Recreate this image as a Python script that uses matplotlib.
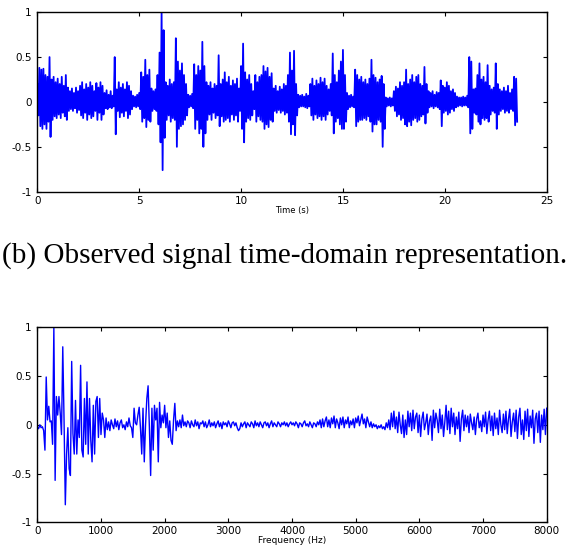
import numpy as np
import matplotlib
matplotlib.use("Agg")
import matplotlib.pyplot as plt

# ---------------- data ----------------
# Time-domain signal: upper / lower excursion every 0.1 s, t = 0.0 .. 23.5 s
time_upper = [
    0.20, 0.38, 0.36, 0.37, 0.30, 0.28, 0.50, 0.25, 0.28, 0.22,
    0.26, 0.20, 0.28, 0.18, 0.30, 0.16, 0.12, 0.15, 0.10, 0.16,
    0.12, 0.18, 0.22, 0.14, 0.20, 0.16, 0.22, 0.18, 0.12, 0.21,
    0.16, 0.22, 0.18, 0.10, 0.13, 0.08, 0.12, 0.07, 0.50, 0.14,
    0.22, 0.16, 0.20, 0.14, 0.22, 0.18, 0.12, 0.07, 0.06, 0.08,
    0.10, 0.33, 0.28, 0.47, 0.30, 0.36, 0.15, 0.12, 0.14, 0.30,
    0.55, 1.00, 0.80, 0.22, 0.18, 0.25, 0.20, 0.22, 0.71, 0.45,
    0.35, 0.43, 0.30, 0.20, 0.08, 0.07, 0.09, 0.42, 0.30, 0.40,
    0.35, 0.67, 0.40, 0.22, 0.18, 0.22, 0.15, 0.20, 0.18, 0.52,
    0.20, 0.25, 0.33, 0.22, 0.28, 0.18, 0.24, 0.20, 0.26, 0.15,
    0.40, 0.65, 0.33, 0.25, 0.30, 0.20, 0.12, 0.30, 0.22, 0.28,
    0.30, 0.40, 0.34, 0.38, 0.28, 0.32, 0.15, 0.18, 0.12, 0.17,
    0.14, 0.20, 0.18, 0.30, 0.55, 0.35, 0.57, 0.20, 0.08, 0.07,
    0.08, 0.06, 0.09, 0.07, 0.20, 0.26, 0.18, 0.24, 0.20, 0.27,
    0.22, 0.26, 0.18, 0.14, 0.20, 0.54, 0.30, 0.22, 0.35, 0.45,
    0.58, 0.30, 0.10, 0.07, 0.08, 0.06, 0.36, 0.30, 0.25, 0.28,
    0.22, 0.25, 0.20, 0.26, 0.47, 0.30, 0.27, 0.22, 0.25, 0.29,
    0.20, 0.05, 0.04, 0.05, 0.04, 0.12, 0.17, 0.15, 0.22, 0.18,
    0.22, 0.36, 0.20, 0.25, 0.30, 0.22, 0.28, 0.30, 0.20, 0.18,
    0.39, 0.20, 0.12, 0.10, 0.12, 0.08, 0.11, 0.10, 0.24, 0.18,
    0.16, 0.22, 0.18, 0.12, 0.14, 0.10, 0.06, 0.05, 0.05, 0.06,
    0.05, 0.07, 0.50, 0.45, 0.14, 0.15, 0.30, 0.43, 0.25, 0.28,
    0.22, 0.41, 0.18, 0.14, 0.16, 0.43, 0.20, 0.14, 0.12, 0.16,
    0.12, 0.18, 0.10, 0.14, 0.28, 0.26,
]
time_lower = [
    -0.15, -0.27, -0.30, -0.25, -0.30, -0.22, -0.39, -0.20, -0.16, -0.18,
    -0.14, -0.18, -0.12, -0.16, -0.20, -0.10, -0.08, -0.10, -0.07, -0.12,
    -0.09, -0.15, -0.18, -0.12, -0.20, -0.14, -0.18, -0.16, -0.10, -0.20,
    -0.12, -0.20, -0.14, -0.07, -0.08, -0.06, -0.07, -0.05, -0.36, -0.10,
    -0.17, -0.12, -0.16, -0.10, -0.18, -0.14, -0.08, -0.05, -0.06, -0.05,
    -0.08, -0.22, -0.18, -0.28, -0.20, -0.22, -0.10, -0.08, -0.10, -0.25,
    -0.45, -0.76, -0.40, -0.20, -0.15, -0.22, -0.18, -0.20, -0.50, -0.30,
    -0.27, -0.25, -0.20, -0.15, -0.06, -0.05, -0.07, -0.30, -0.20, -0.35,
    -0.30, -0.50, -0.35, -0.20, -0.14, -0.20, -0.12, -0.18, -0.15, -0.27,
    -0.16, -0.22, -0.20, -0.18, -0.22, -0.14, -0.20, -0.15, -0.22, -0.10,
    -0.30, -0.45, -0.22, -0.18, -0.20, -0.15, -0.08, -0.22, -0.16, -0.20,
    -0.22, -0.30, -0.25, -0.28, -0.20, -0.22, -0.10, -0.12, -0.09, -0.12,
    -0.10, -0.14, -0.12, -0.22, -0.36, -0.25, -0.37, -0.15, -0.06, -0.05,
    -0.05, -0.06, -0.07, -0.05, -0.15, -0.20, -0.14, -0.18, -0.16, -0.20,
    -0.16, -0.20, -0.14, -0.10, -0.15, -0.35, -0.22, -0.18, -0.25, -0.30,
    -0.30, -0.22, -0.08, -0.06, -0.05, -0.06, -0.27, -0.22, -0.20, -0.20,
    -0.18, -0.20, -0.16, -0.22, -0.33, -0.25, -0.25, -0.20, -0.22, -0.50,
    -0.30, -0.05, -0.04, -0.05, -0.04, -0.10, -0.16, -0.14, -0.20, -0.18,
    -0.25, -0.27, -0.22, -0.26, -0.20, -0.18, -0.22, -0.20, -0.16, -0.14,
    -0.24, -0.12, -0.06, -0.05, -0.07, -0.05, -0.06, -0.08, -0.27, -0.12,
    -0.10, -0.14, -0.12, -0.08, -0.10, -0.06, -0.05, -0.04, -0.05, -0.04,
    -0.04, -0.06, -0.35, -0.30, -0.12, -0.14, -0.22, -0.25, -0.18, -0.20,
    -0.18, -0.22, -0.14, -0.10, -0.12, -0.30, -0.14, -0.10, -0.08, -0.12,
    -0.10, -0.12, -0.08, -0.10, -0.26, -0.22,
]
time_step = 0.1

# Spectrum values every 20 Hz, 0 .. 8000 Hz
spectrum = [
    -0.02, -0.04, 0.00, -0.03, -0.02, -0.06, -0.26, 0.49, 0.05, 0.19,
    0.03, 0.04, -0.20, 1.00, -0.57, 0.29, 0.10, 0.29, 0.12, -0.10,
    0.80, 0.05, -0.82, -0.30, -0.03, -0.45, -0.52, 0.65, -0.09, -0.30,
    0.25, -0.30, 0.05, -0.13, 0.61, -0.26, -0.33, 0.27, -0.20, 0.44,
    -0.30, 0.27, -0.16, -0.38, 0.20, -0.30, 0.24, 0.29, -0.13, 0.27,
    -0.10, 0.12, 0.05, -0.13, 0.07, -0.05, 0.03, -0.06, 0.05, 0.00,
    -0.04, 0.06, -0.02, 0.04, -0.05, 0.02, 0.05, -0.03, 0.00, -0.05,
    0.03, -0.02, 0.07, -0.01, -0.03, -0.13, 0.17, 0.02, 0.00, 0.10,
    0.18, -0.03, -0.30, 0.17, -0.38, 0.00, 0.27, 0.40, -0.02, -0.52,
    0.17, -0.26, 0.20, 0.05, 0.17, -0.38, 0.23, -0.03, 0.10, 0.02,
    0.20, -0.03, 0.12, -0.13, 0.04, -0.16, -0.20, 0.05, 0.22, -0.06,
    0.04, -0.02, 0.05, -0.03, 0.10, -0.01, 0.03, -0.02, 0.04,
    0.02, -0.03, 0.04, 0.00, -0.02, 0.05, -0.01, 0.03, -0.04, 0.02,
    0.01, 0.04, -0.02, 0.03, -0.03, 0.00, 0.05, -0.02, 0.02, -0.01,
    0.03, -0.03, 0.01, 0.04, -0.02, 0.02, -0.04, 0.03, 0.00, 0.02,
    -0.02, 0.04, 0.01, -0.03, 0.02, 0.03, -0.01, 0.02, -0.03, -0.06,
    -0.04, 0.02, -0.02, 0.01, 0.03, -0.03, 0.02, 0.00, -0.02, 0.03,
    0.01, -0.03, 0.04, -0.01, 0.02, -0.02, 0.03, 0.00, -0.03, 0.02,
    0.03, -0.01, 0.02, -0.03, 0.01, 0.04, -0.02, 0.02, 0.00, -0.02,
    0.03, 0.01, -0.02, 0.02, 0.00, 0.03, -0.01, 0.02, -0.02, 0.01,
    0.03, 0.00, 0.02, -0.01, 0.03, 0.01, -0.03, 0.02, 0.01, -0.02,
    0.02, 0.04, -0.01, 0.01, -0.02, 0.03, 0.00, -0.03, 0.02, 0.01,
    -0.02, 0.03, 0.00, 0.05, -0.03, 0.06, -0.02, 0.04, 0.08, -0.02,
    0.05, -0.03, 0.07, 0.01, 0.09, -0.03, 0.06, 0.02, -0.04, 0.07,
    0.00, 0.08, -0.03, 0.05, 0.01, 0.08, -0.03, 0.04, 0.00, 0.06,
    -0.03, 0.07, 0.02, 0.09, -0.01, 0.05, 0.11, 0.01, 0.06, -0.03,
    0.08, 0.03, -0.02, 0.03, -0.03, 0.01, -0.02, 0.00, -0.04, -0.01,
    -0.03, 0.00, -0.04, -0.02, -0.05, 0.02, -0.03, 0.05, -0.05, 0.12,
    -0.02, 0.14, -0.04, 0.08, -0.08, 0.13, 0.00, -0.09, 0.10, -0.13,
    0.05, -0.10, 0.14, -0.02, 0.12, -0.06, 0.15, -0.04, 0.08, 0.12,
    -0.08, 0.10, -0.12, 0.06, 0.13, -0.05, 0.02, 0.11, -0.10, 0.04,
    0.09, -0.16, 0.15, -0.03, 0.12, 0.05, -0.08, 0.16, -0.04, 0.10,
    -0.12, 0.03, 0.20, -0.05, 0.14, -0.09, 0.17, -0.02, 0.12, -0.10,
    0.08, -0.04, 0.13, -0.17, 0.06, 0.15, -0.06, 0.10, -0.02, 0.09,
    -0.08, 0.11, 0.02, -0.05, 0.08, -0.10, 0.06, 0.12, -0.03, 0.04,
    -0.07, 0.10, -0.02, 0.13, -0.09, 0.05, 0.14, -0.06, 0.09, -0.11,
    0.12, -0.04, 0.07, -0.10, 0.15, 0.00, -0.08, 0.11, -0.05, 0.14,
    -0.09, 0.06, 0.16, -0.12, 0.03, 0.12, -0.07, 0.15, -0.14, 0.08,
    0.17, -0.10, 0.05, -0.15, 0.14, -0.06, 0.16, -0.12, 0.09, -0.03,
    0.15, -0.19, 0.06, 0.12, -0.08, 0.14, -0.18, 0.10, -0.05, 0.16,
    -0.10, 0.17,
]
freq_step = 20

x_ticks_time = [0, 5, 10, 15, 20, 25]
x_ticks_freq = [0, 1000, 2000, 3000, 4000, 5000, 6000, 7000, 8000]
y_ticks = [-1, -0.5, 0, 0.5, 1]
y_tick_labels = ["-1", "-0.5", "0", "0.5", "1"]
caption = "(b) Observed signal time-domain representation."

# ---------------- plotting ----------------
plt.rcParams['font.family'] = ['DejaVu Sans']
W, H = 569, 548
fig = plt.figure(figsize=(W / 100, H / 100), dpi=100)

def px_axes(l, t, r, b):
    return [l / W, 1 - b / H, (r - l) / W, (b - t) / H]

blue = (0, 0, 1)

def style(ax):
    for s in ax.spines.values():
        s.set_linewidth(1.0)
        s.set_color('black')
    ax.tick_params(direction='in', length=3, width=0.8, top=True, right=True,
                   labelsize=7.5, colors='black')
    ax.tick_params(axis='y', pad=4)
    ax.tick_params(axis='x', pad=3)
    ax.set_yticks(y_ticks)
    ax.set_yticklabels(y_tick_labels)
    ax.set_ylim(-1, 1)

# Top: time domain
ax1 = fig.add_axes(px_axes(37.3, 12.2, 546.7, 191.7))
n = len(time_upper)
t = np.arange(n) * time_step
tx = np.empty(2 * n)
ty = np.empty(2 * n)
tx[0::2] = t
tx[1::2] = t + time_step / 2
ty[0::2] = time_upper
ty[1::2] = time_lower
ax1.plot(tx, ty, color=blue, lw=1.3)
ax1.set_xlim(0, 25)
ax1.set_xticks(x_ticks_time)
style(ax1)
ax1.set_xlabel("Time (s)", fontsize=6, labelpad=0)

# Caption
fig.text(0.5, 1 - 256 / H, caption, ha='center', va='center',
         fontsize=21, family=['Liberation Serif', 'DejaVu Serif'])

# Bottom: spectrum
ax2 = fig.add_axes(px_axes(37.3, 327.3, 546.7, 522.3))
f = np.arange(len(spectrum)) * freq_step
ax2.plot(f, spectrum, color=blue, lw=1.0)
ax2.set_xlim(0, 8000)
ax2.set_xticks(x_ticks_freq)
style(ax2)
ax2.set_xlabel("Frequency (Hz)", fontsize=6.5, labelpad=0)

fig.savefig("out.png", dpi=100)
